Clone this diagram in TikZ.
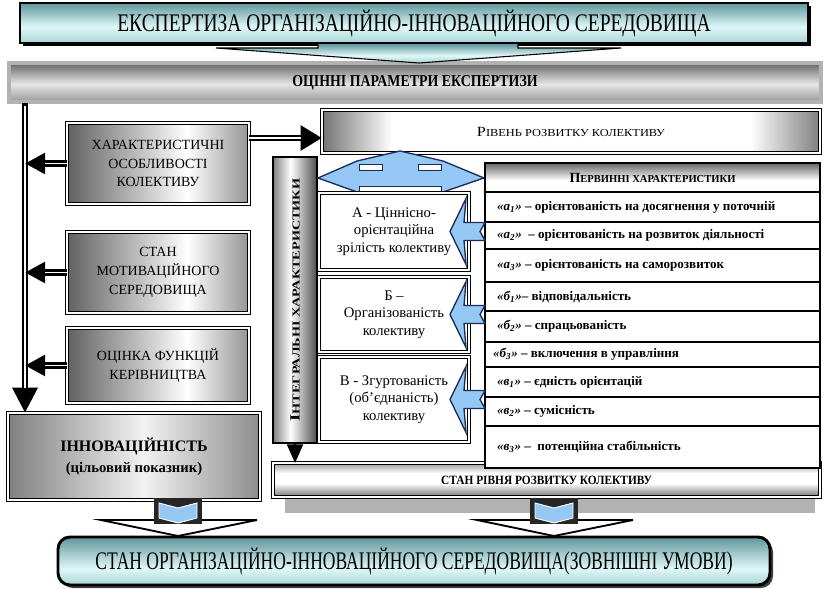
\documentclass[tikz,border=0pt]{standalone}
\usepackage{fontspec}
\setmainfont{Liberation Serif}
\usepackage{graphicx}
\usetikzlibrary{arrows.meta,calc}
\definecolor{tdark}{RGB}{96,150,156}
\definecolor{tlight}{RGB}{224,248,248}
\definecolor{tmid}{RGB}{168,212,214}
\definecolor{lblue}{RGB}{150,200,245}
\definecolor{navy}{RGB}{25,45,85}
\pgfdeclarehorizontalshading{lboxsh}{100bp}{color(0bp)=(black!62); color(25bp)=(black!62); color(58bp)=(white); color(75bp)=(black!42); color(100bp)=(black!42)}
\pgfdeclarehorizontalshading{innsh}{100bp}{color(0bp)=(black!50); color(25bp)=(black!50); color(52bp)=(black!5); color(75bp)=(black!45); color(100bp)=(black!45)}
\pgfdeclarehorizontalshading{cylsh}{100bp}{color(0bp)=(black!55); color(25bp)=(black!55); color(32bp)=(white); color(68bp)=(white); color(75bp)=(black!50); color(100bp)=(black!50)}
\pgfdeclarehorizontalshading{barsh}{100bp}{color(0bp)=(black!50); color(25bp)=(black!50); color(45bp)=(white); color(75bp)=(black!70); color(100bp)=(black!70)}
\pgfdeclareverticalshading{hdrsh}{100bp}{color(0bp)=(white); color(25bp)=(white); color(45bp)=(white); color(75bp)=(black!60); color(100bp)=(black!60)}
\pgfdeclareverticalshading{stansh}{100bp}{color(0bp)=(black!55); color(25bp)=(black!55); color(45bp)=(white); color(60bp)=(white); color(75bp)=(black!40); color(100bp)=(black!40)}
\pgfdeclareverticalshading{parsh}{100bp}{color(0bp)=(black!40); color(25bp)=(black!40); color(48bp)=(black!10); color(75bp)=(black!60); color(100bp)=(black!60)}
\pgfdeclareverticalshading{titsh}{100bp}{color(0bp)=(tmid); color(25bp)=(tmid); color(45bp)=(tlight); color(75bp)=(tdark); color(100bp)=(tdark)}
\pgfdeclareverticalshading{botsh}{100bp}{color(0bp)=(tmid); color(25bp)=(tmid); color(42bp)=(tlight); color(75bp)=(tdark); color(100bp)=(tdark)}
\newcommand{\fw}[2]{\resizebox{#1}{\height}{#2}}
\newcommand{\fsc}[2]{{\fontsize{10.5}{12}\selectfont #1}{\fontsize{8}{10}\selectfont #2}}
\newcommand{\ab}[2]{\textit{«#1\textsubscript{#2}»}}
\newcommand{\botarrow}[1]{%
  \filldraw[fill=white,draw=black,line width=1.4pt,line join=miter] (#1-77,520) -- (#1+79,520) -- (#1,536) -- cycle;
  \fill[black!85] (#1-24,498) rectangle (#1+24,524);
  \filldraw[fill=lblue,draw=white,line width=0.7pt] (#1-19,503) -- (#1,508) -- (#1+19,503) -- (#1+19,518) -- (#1,523) -- (#1-19,518) -- cycle;
}
\begin{document}
\begin{tikzpicture}[x=0.75pt,y=-0.75pt,
  every node/.style={inner sep=0pt,outer sep=0pt},
  bx/.style args={#1/#2/#3/#4}{minimum width={(#3-#1)*0.75pt},minimum height={(#4-#2)*0.75pt},at={({(#1+#3)/2},{(#2+#4)/2})}},
  dbl/.style={draw=black,double=white,line width=1.1pt,double distance=0.9pt},
  lbox/.style={dbl,shade,shading=lboxsh,align=center,font=\fontsize{10.5}{14}\selectfont},
  mbox/.style={dbl,fill=white,align=center,font=\fontsize{11}{13}\selectfont},
  trow/.style={draw=black,line width=1.2pt,fill=white},
  rtext/.style={anchor=west,xshift=9pt,font=\fontsize{9.8}{11}\selectfont\bfseries},
  harrow/.style={line width=5pt},
  wcore/.style={white,line width=1.1pt},
  bluear/.style={fill=lblue,draw=navy,line width=1pt,line join=miter},
]
\useasboundingbox (0,0) rectangle (825,589);

% title
\fill[black] (23,6) rectangle (811,46);
\node[bx=20/3/808/43,draw=black,line width=0.8pt,shade,shading=titsh] (title)
  {\fw{445pt}{\fontsize{19}{21}\selectfont ЕКСПЕРТИЗА ОРГАНІЗАЦІЙНО-ІННОВАЦІЙНОГО СЕРЕДОВИЩА}};

% parameters
\node[bx=9/63/821/102,draw=black!30,line width=2.5pt,shade,shading=parsh] (par)
  {\fw{184pt}{\fontsize{12.5}{14}\selectfont\bfseries ОЦІННІ ПАРАМЕТРИ ЕКСПЕРТИЗИ}};

% title arrow
\shadedraw[shading=titsh,draw=black,line width=0.8pt,line join=miter]
  (318,44) -- (318,48) -- (216,48) -- (419,63) -- (621,48) -- (518,48) -- (518,44);

% left column boxes
\node[lbox,bx=67/123/249/204] (b1) {ХАРАКТЕРИСТИЧНІ\\ОСОБЛИВОСТІ\\КОЛЕКТИВУ};
\node[lbox,bx=67/232/249/313] (b2) {СТАН\\МОТИВАЦІЙНОГО\\СЕРЕДОВИЩА};
\node[lbox,bx=67/328/249/403] (b3) {ОЦІНКА ФУНКЦІЙ\\КЕРІВНИЦТВА};
\node[dbl,shade,shading=innsh,align=center,font=\fontsize{11}{16}\selectfont\bfseries,bx=8/413/260/500] (b4)
  {{\fontsize{12}{16}\selectfont ІННОВАЦІЙНІСТЬ}\\(цільовий показник)};

% left vertical line
\coordinate (v0) at (25,103);
\draw[line width=4.5pt,-{Triangle[length=19pt,width=18pt]}] (v0) -- (b4.north -| v0);
\draw[wcore,shorten >=19pt] ($(v0)+(0,3)$) -- (b4.north -| v0);
\foreach \b in {b1,b2,b3}{
  \draw[harrow,-{Triangle[length=15pt,width=15pt]}] (\b.west) -- (\b.west -| v0);
  \draw[wcore,shorten >=15pt] (\b.west) -- (\b.west -| v0);
}

% level box
\node[dbl,shade,shading=cylsh,bx=322/110/820/153] (riv)
  {\fw{141pt}{\fsc{Р}{ІВЕНЬ РОЗВИТКУ КОЛЕКТИВУ}}};
\coordinate (a1s) at ($(b1.north east)!0.185!(b1.south east)$);
\draw[harrow,-{Triangle[length=16pt,width=18pt]}] (a1s) -- (a1s -| riv.west);
\draw[wcore,shorten >=16pt] (a1s) -- (a1s -| riv.west);

% integral bar
\node[draw=black,line width=1pt,shade,shading=barsh,bx=273/157/317/443] (ib) {};
\node[rotate=90] (ibt) at (ib.center) {\fw{182pt}{\bfseries\fsc{І}{НТЕГРАЛЬНІ ХАРАКТЕРИСТИКИ}}};

% blue double arrow
\filldraw[bluear] (318,178) -- (357,161) -- (400,151) -- (443,161) -- (484,178) -- (443,192) -- (357,192) -- cycle;
\filldraw[fill=white,draw=navy,line width=0.6pt] (359,164) rectangle (382,170);
\filldraw[fill=white,draw=navy,line width=0.6pt] (418,164) rectangle (441,170);
\filldraw[fill=white,draw=navy,line width=0.6pt] (359,186) rectangle (441,191);

% middle boxes
\node[mbox,bx=319/193/469/270] (ma) {А - Ціннісно-\\орієнтаційна\\зрілість колективу};
\node[mbox,bx=319/277/469/352] (mb) {Б –\\Організованість\\колективу};
\node[mbox,bx=319/357/469/442] (mc) {В - Згуртованість\\(об’єднаність)\\колективу};

% state box with shadow
\fill[black!30] (285,470) rectangle (815,513);
\node[dbl,shade,shading=stansh,bx=273/463/820/497] (stan)
  {\fw{158pt}{\fontsize{9.5}{11}\selectfont\bfseries СТАН РІВНЯ РОЗВИТКУ КОЛЕКТИВУ}};
\draw[line width=1.5pt,-{Triangle[length=14pt,width=12pt]}] (ib.south) -- (ib.south |- stan.north);

% table
\node[draw=black,line width=1.2pt,shade,shading=hdrsh,bx=485/163/820/192] (hdr)
  {\fw{124.5pt}{\bfseries\fsc{П}{ЕРВИННІ ХАРАКТЕРИСТИКИ}}};
\node[trow,bx=485/192/820/222,label={[rtext]west:{\ab{а}{1} – орієнтованість на досягнення у поточній}}] (ra1) {};
\node[trow,bx=485/222/820/249,label={[rtext]west:{\ab{а}{2} \ – орієнтованість на розвиток діяльності}}] (ra2) {};
\node[trow,bx=485/249/820/282,label={[rtext]west:{\ab{а}{3} – орієнтованість на саморозвиток}}] (ra3) {};
\node[trow,bx=485/282/820/311,label={[rtext]west:{\ab{б}{1}– відповідальність}}] (rb1) {};
\node[trow,bx=485/311/820/342,label={[rtext]west:{\ab{б}{2} – спрацьованість}}] (rb2) {};
\node[trow,bx=485/342/820/367,label={[rtext,xshift=-3pt]west:{\ab{б}{3} – включення в управління}}] (rb3) {};
\node[trow,bx=485/367/820/397,label={[rtext]west:{\ab{в}{1} – єдність орієнтацій}}] (rc1) {};
\node[trow,bx=485/397/820/426,label={[rtext]west:{\ab{в}{2} – сумісність}}] (rc2) {};
\node[trow,bx=485/426/820/468,label={[rtext]west:{\ab{в}{3} – \ потенційна стабільність}}] (rc3) {};

% blue arrows into middle boxes
\foreach \m in {ma,mb,mc}{
  \filldraw[bluear] ($(\m.east)+(-19,0)$) -- ++(16,-33) -- ++(-2,24) -- ++(21,0) -- ++(-5,9) -- ++(5,9) -- ++(-21,0) -- ++(2,24) -- cycle;
}

% bottom box
\fill[black!75,rounded corners=9pt] (61,540) rectangle (773,588);
\node[draw=black,line width=2.2pt,rounded corners=9pt,shade,shading=botsh,bx=58/537/770/585] (bot)
  {\fw{478pt}{\fontsize{19}{21}\selectfont СТАН ОРГАНІЗАЦІЙНО-ІННОВАЦІЙНОГО СЕРЕДОВИЩА(ЗОВНІШНІ УМОВИ)}};

% bottom arrows
\botarrow{178}
\botarrow{554}
\end{tikzpicture}
\end{document}
